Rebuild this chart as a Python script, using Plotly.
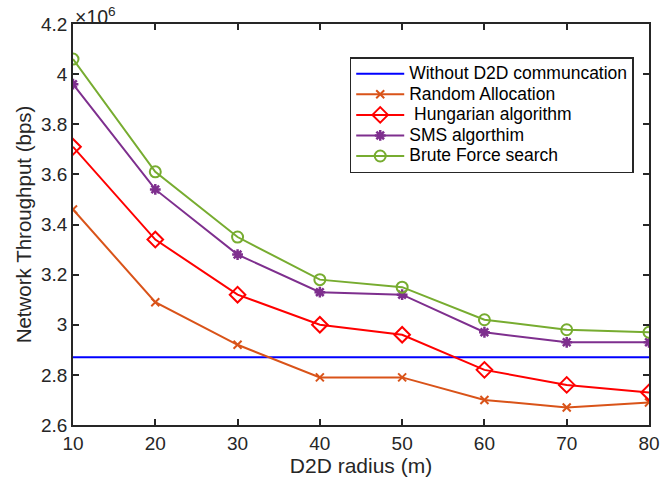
import plotly.graph_objects as go

radius = [10, 20, 30, 40, 50, 60, 70, 80]
without_d2d = [2.87] * 8
random_alloc = [3.46, 3.09, 2.92, 2.79, 2.79, 2.70, 2.67, 2.69]
hungarian = [3.71, 3.34, 3.12, 3.00, 2.96, 2.82, 2.76, 2.73]
sms = [3.96, 3.54, 3.28, 3.13, 3.12, 2.97, 2.93, 2.93]
brute = [4.06, 3.61, 3.35, 3.18, 3.15, 3.02, 2.98, 2.97]

ytick_vals = [2.6, 2.8, 3.0, 3.2, 3.4, 3.6, 3.8, 4.0, 4.2]
ytick_text = ["2.6", "2.8", "3", "3.2", "3.4", "3.6", "3.8", "4", "4.2"]
xtick_vals = [10, 20, 30, 40, 50, 60, 70, 80]

FONT = "Liberation Sans, Arial"
AX = "#262626"


def lg(name):
    return '<span style="font-size:17.5px">' + name + '</span>'


fig = go.Figure()
fig.add_trace(go.Scatter(x=radius, y=without_d2d, mode="lines",
                         name=lg("Without D2D communcation"),
                         line=dict(color="#0000FF", width=2)))
fig.add_trace(go.Scatter(x=radius, y=random_alloc, mode="lines+markers",
                         name=lg("Random Allocation"),
                         line=dict(color="#D95319", width=2),
                         marker=dict(symbol="x-thin-open", size=8,
                                     line=dict(color="#D95319", width=2))))
fig.add_trace(go.Scatter(x=radius, y=hungarian, mode="lines+markers",
                         name=lg(" Hungarian algorithm"),
                         line=dict(color="#FF0000", width=2),
                         marker=dict(symbol="diamond-open", size=12,
                                     line=dict(color="#FF0000", width=2))))
fig.add_trace(go.Scatter(x=radius, y=sms, mode="lines+markers",
                         name=lg("SMS algorthim"),
                         line=dict(color="#7E2F8E", width=2),
                         marker=dict(symbol="asterisk-open", size=9,
                                     line=dict(color="#7E2F8E", width=2.5))))
fig.add_trace(go.Scatter(x=radius, y=brute, mode="lines+markers",
                         name=lg("Brute Force search"),
                         line=dict(color="#77AC30", width=2),
                         marker=dict(symbol="circle-open", size=11,
                                     line=dict(color="#77AC30", width=2))))

axis_common = dict(showline=True, linecolor=AX, linewidth=1.5,
                   mirror="ticks", ticks="inside", ticklen=6,
                   tickcolor=AX, tickwidth=1.5, showgrid=False,
                   zeroline=False,
                   tickfont=dict(family=FONT, size=19, color=AX))

fig.update_xaxes(range=[10, 80], tickvals=xtick_vals,
                 title=dict(text="D2D radius (m)", standoff=2,
                            font=dict(family=FONT, size=21, color=AX)),
                 **axis_common)
fig.update_yaxes(range=[2.6, 4.2], tickvals=ytick_vals, ticktext=ytick_text,
                 title=dict(text="Network Throughput (bps)", standoff=4,
                            font=dict(family=FONT, size=20.5, color=AX)),
                 **axis_common)

fig.add_annotation(xref="paper", yref="paper", x=0.0, y=1.0, xanchor="left", yanchor="bottom",
                   text="\u00d710<sup>6</sup>", showarrow=False,
                   font=dict(family=FONT, size=19.5, color=AX),
                   yshift=-6)

fig.update_layout(
    width=671, height=481,
    margin=dict(l=73, r=11, t=24, b=56),
    paper_bgcolor="white", plot_bgcolor="white",
    legend=dict(x=(355 - 73) / 587, y=(425 - 57) / 401, xanchor="left", yanchor="top",
                bgcolor="white", bordercolor=AX, borderwidth=1.5,
                font=dict(family=FONT, size=13.5, color="black"),
                tracegroupgap=0, itemwidth=48),
    showlegend=True,
)

fig.write_html("out.html")
